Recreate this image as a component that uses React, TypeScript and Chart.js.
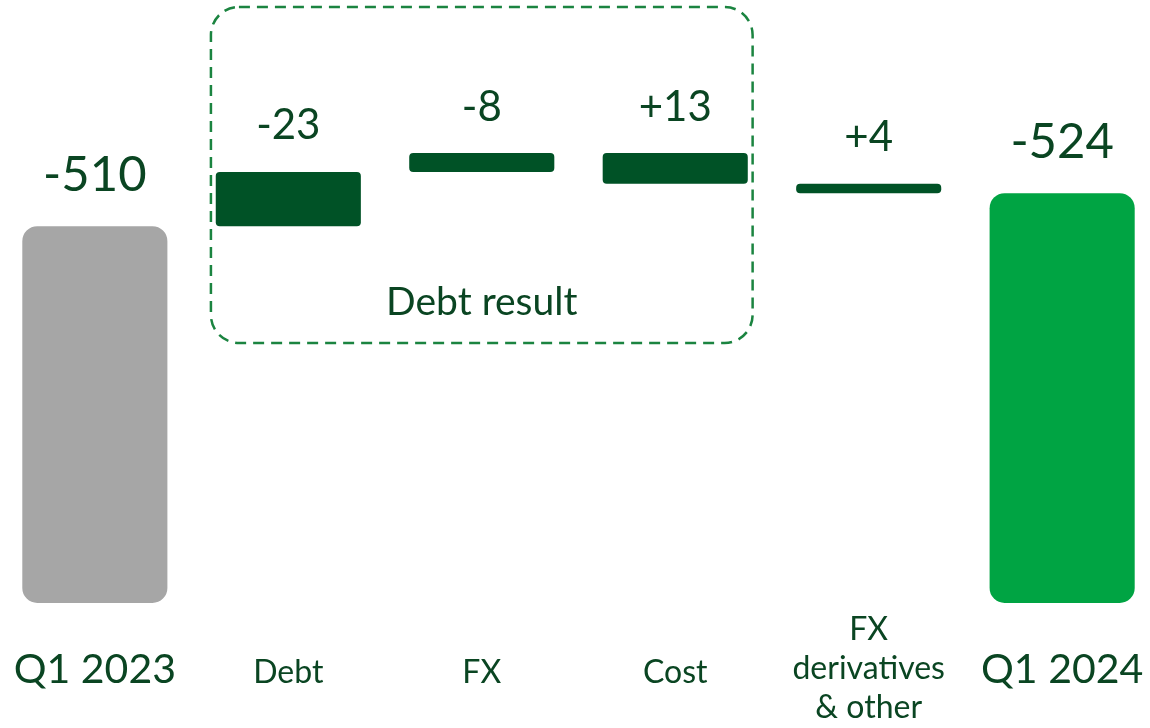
import { useEffect, useRef } from "react";
import { Chart, registerables, type Plugin } from "chart.js";

Chart.register(...registerables);

// 数据：起点、变动、终点
const categories: (string | string[])[] = [
  "Q1 2023",
  "Debt",
  "FX",
  "Cost",
  ["FX", "derivatives", "& other"],
  "Q1 2024",
];
const startValue = -510;
const changes = [-23, -8, 13, 4];
const endValue = -524;
const groupFrom = 1;
const groupTo = 3;
const groupLabel = "Debt result";

const FONT = "Lato, 'Noto Sans', sans-serif";
const TEXT = "#0a4522";
const GREY = "#a6a6a6";
const DARK = "#005226";
const BRIGHT = "#00a443";
const AXIS_FLOOR = 350;

// 瀑布图：负值向上画，所以按绝对值累计
const ranges: [number, number][] = [];
const valueLabels: string[] = [];
let level = -startValue;
ranges.push([AXIS_FLOOR, level]);
valueLabels.push(String(startValue));
changes.forEach((c) => {
  const next = level - c;
  ranges.push([Math.min(level, next), Math.max(level, next)]);
  valueLabels.push(c > 0 ? `+${c}` : String(c));
  level = next;
});
ranges.push([AXIS_FLOOR, -endValue]);
valueLabels.push(String(endValue));

const last = categories.length - 1;
const isTotal = (i: number) => i === 0 || i === last;

const valueLabelPlugin: Plugin = {
  id: "valueLabels",
  afterDatasetsDraw(chart) {
    const { ctx } = chart;
    const meta = chart.getDatasetMeta(0);
    ctx.save();
    ctx.fillStyle = TEXT;
    ctx.textAlign = "center";
    ctx.textBaseline = "middle";
    meta.data.forEach((bar: any, i) => {
      const top = Math.min(bar.y, bar.base);
      const size = isTotal(i) ? 49 : 42;
      ctx.font = `${size}px ${FONT}`;
      ctx.fillText(valueLabels[i], bar.x, top - (isTotal(i) ? 51 : 46));
    });
    ctx.restore();
  },
};

const groupBoxPlugin: Plugin = {
  id: "groupBox",
  beforeDatasetsDraw(chart) {
    const { ctx, chartArea } = chart;
    const x = chart.scales.x;
    const half = (x.getPixelForValue(1) - x.getPixelForValue(0)) * 0.4;
    const left = x.getPixelForValue(groupFrom) - half;
    const right = x.getPixelForValue(groupTo) + half;
    const top = chartArea.top + 7;
    const bottom = chartArea.top + 343;
    ctx.save();
    ctx.setLineDash([11, 7]);
    ctx.lineWidth = 2.5;
    ctx.strokeStyle = "#1b8440";
    ctx.beginPath();
    ctx.roundRect(left, top, right - left, bottom - top, 28);
    ctx.stroke();
    ctx.setLineDash([]);
    ctx.fillStyle = TEXT;
    ctx.font = `39px ${FONT}`;
    ctx.textAlign = "center";
    ctx.textBaseline = "middle";
    ctx.fillText(groupLabel, (left + right) / 2, chartArea.top + 302);
    ctx.restore();
  },
};

export default function App() {
  const canvasRef = useRef<HTMLCanvasElement>(null);

  useEffect(() => {
    document.body.style.margin = "0";
    document.body.style.overflow = "hidden";
    if (!canvasRef.current) return;
    const chart = new Chart(canvasRef.current, {
      type: "bar",
      data: {
        labels: categories,
        datasets: [
          {
            data: ranges,
            backgroundColor: categories.map((_, i) =>
              i === 0 ? GREY : i === last ? BRIGHT : DARK
            ),
            borderRadius: categories.map((_, i) => (isTotal(i) ? 15 : 4)),
            borderSkipped: false,
            barPercentage: 0.75,
            categoryPercentage: 1,
          },
        ],
      },
      options: {
        animation: false,
        responsive: true,
        maintainAspectRatio: false,
        layout: { padding: 0 },
        plugins: {
          legend: { display: false },
          tooltip: { enabled: false },
        },
        scales: {
          x: {
            grid: { display: false },
            border: { display: false },
            ticks: {
              color: TEXT,
              padding: 19,
              crossAlign: "center",
              autoSkip: false,
              maxRotation: 0,
              font: (ctx: any) => {
                const i = ctx.index;
                if (isTotal(i)) return { family: FONT, size: 41, lineHeight: 0.9 };
                if (Array.isArray(categories[i]))
                  return { family: FONT, size: 32, lineHeight: 1.22 };
                return { family: FONT, size: 32, lineHeight: 1.0 };
              },
            },
            afterFit: (scale: any) => {
              scale.height = 125;
            },
          },
          y: {
            display: false,
            min: AXIS_FLOOR,
            max: 606,
          },
        },
      },
      plugins: [groupBoxPlugin, valueLabelPlugin],
    });
    return () => chart.destroy();
  }, []);

  return (
    <div style={{ width: 1150, height: 728, overflow: "hidden" }}>
      <div style={{ position: "relative", width: 1167, height: 728, marginLeft: -5 }}>
        <canvas ref={canvasRef} />
      </div>
    </div>
  );
}
